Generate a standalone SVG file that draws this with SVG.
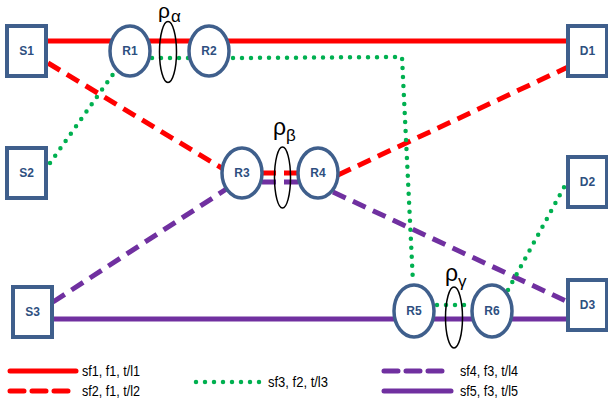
<svg xmlns="http://www.w3.org/2000/svg" width="608" height="404" viewBox="0 0 608 404">
<style>
.box{fill:#fff;stroke:#3F5F8C;stroke-width:4}
.rt{fill:#fff;stroke:#3F5F8C;stroke-width:3.5}
.lbl{font-family:"Liberation Sans",Arial,sans-serif;font-weight:bold;font-size:12px;fill:#2E4F7F;text-anchor:middle}
.rho{fill:none;stroke:#000;stroke-width:1.5}
.greek{font-family:"Liberation Sans",Arial,sans-serif;fill:#000}
.red{stroke:#FF0000;stroke-width:5;fill:none}
.redd{stroke:#FF0000;stroke-width:5;fill:none;stroke-dasharray:14 8}
.pur{stroke:#7030A0;stroke-width:5;fill:none}
.purd{stroke:#7030A0;stroke-width:5;fill:none;stroke-dasharray:14 8}
.grn{stroke:#00B050;stroke-width:4.5;fill:none;stroke-dasharray:0 9;stroke-linecap:round}
.leg{font-family:"Liberation Sans",Arial,sans-serif;font-size:14px;fill:#000}
</style>
<rect width="608" height="404" fill="#fff"/>
<g id="connectors">
<line class="red" x1="46" y1="41" x2="568" y2="41"/>
<polyline class="redd" points="48,63 225,170"/>
<line class="redd" x1="262" y1="173" x2="298" y2="173"/>
<polyline class="redd" points="338,175 568,67"/>
<line class="pur" x1="52" y1="319" x2="568" y2="319"/>
<polyline class="purd" points="53,302 228,188"/>
<line class="purd" x1="262" y1="182" x2="298" y2="182"/>
<polyline class="purd" points="333,192 568,302"/>
<polyline class="grn" points="50,163 116,70"/>
<line class="grn" x1="152" y1="58" x2="189" y2="58"/>
<polyline class="grn" points="233,58 402,57 413,283"/>
<line class="grn" x1="437" y1="305" x2="471" y2="305"/>
<polyline class="grn" points="508,290 568,180"/>
</g>
<g id="S1"><rect class="box" x="7" y="26" width="39" height="50"/><text class="lbl" x="26.5" y="55">S1</text></g>
<g id="S2"><rect class="box" x="7" y="148" width="39" height="50"/><text class="lbl" x="26.5" y="177">S2</text></g>
<g id="S3"><rect class="box" x="13" y="287" width="39" height="50"/><text class="lbl" x="32.5" y="316">S3</text></g>
<g id="D1"><rect class="box" x="568" y="26" width="39" height="50"/><text class="lbl" x="587.5" y="55">D1</text></g>
<g id="D2"><rect class="box" x="568" y="157" width="39" height="50"/><text class="lbl" x="587.5" y="186">D2</text></g>
<g id="D3"><rect class="box" x="568" y="280" width="39" height="50"/><text class="lbl" x="587.5" y="309">D3</text></g>
<g id="R1"><ellipse class="rt" cx="130" cy="51" rx="20" ry="25"/><text class="lbl" x="130" y="55">R1</text></g>
<g id="R2"><ellipse class="rt" cx="209" cy="51" rx="20" ry="25"/><text class="lbl" x="209" y="55">R2</text></g>
<g id="R3"><ellipse class="rt" cx="242" cy="173" rx="20" ry="25"/><text class="lbl" x="242" y="177">R3</text></g>
<g id="R4"><ellipse class="rt" cx="318" cy="173" rx="20" ry="25"/><text class="lbl" x="318" y="177">R4</text></g>
<g id="R5"><ellipse class="rt" cx="414" cy="311" rx="20" ry="26"/><text class="lbl" x="414" y="315">R5</text></g>
<g id="R6"><ellipse class="rt" cx="492" cy="311" rx="20" ry="26"/><text class="lbl" x="492" y="315">R6</text></g>
<g id="rho-alpha"><ellipse class="rho" cx="168" cy="52" rx="8.5" ry="30.5"/><text class="greek" x="158" y="18" font-size="21">ρ</text><text class="greek" x="171" y="22" font-size="17">α</text></g>
<g id="rho-beta"><ellipse class="rho" cx="282.5" cy="177.5" rx="8" ry="30.5"/><text class="greek" x="273" y="135" font-size="23">ρ</text><text class="greek" x="286" y="141" font-size="17">β</text></g>
<g id="rho-gamma"><ellipse class="rho" cx="454" cy="317.5" rx="8.5" ry="30.5"/><text class="greek" x="445" y="281" font-size="23">ρ</text><text class="greek" x="458" y="287" font-size="17">γ</text></g>
<g id="legend">
<line class="red" x1="10" y1="371" x2="76" y2="371" stroke-linecap="round"/>
<text class="leg" x="82" y="376" textLength="58" lengthAdjust="spacingAndGlyphs">sf1, f1, t/l1</text>
<line class="redd" x1="10" y1="391" x2="74" y2="391" stroke-linecap="round" stroke-dasharray="9 12"/>
<text class="leg" x="82" y="396" textLength="58" lengthAdjust="spacingAndGlyphs">sf2, f1, t/l2</text>
<line class="grn" x1="196" y1="382" x2="260" y2="382"/>
<text class="leg" x="268" y="387" textLength="60" lengthAdjust="spacingAndGlyphs">sf3, f2, t/l3</text>
<line class="purd" x1="384" y1="371" x2="446" y2="371" stroke-linecap="round" stroke-dasharray="9 12"/>
<text class="leg" x="460" y="376" textLength="58" lengthAdjust="spacingAndGlyphs">sf4, f3, t/l4</text>
<line class="pur" x1="384" y1="391" x2="451" y2="391" stroke-linecap="round"/>
<text class="leg" x="460" y="396" textLength="58" lengthAdjust="spacingAndGlyphs">sf5, f3, t/l5</text>
</g>
</svg>
